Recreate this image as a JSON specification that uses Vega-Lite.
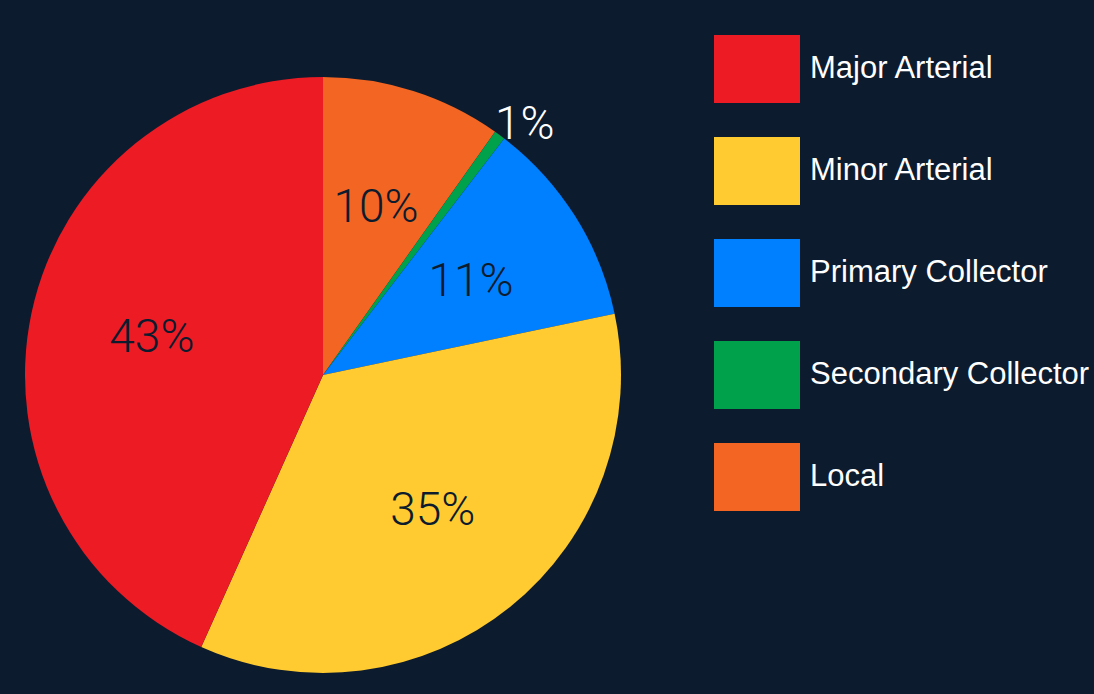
{
  "$schema": "https://vega.github.io/schema/vega-lite/v6.json",
  "width": 596,
  "height": 596,
  "autosize": {"type": "none"},
  "padding": {"left": 25, "top": 77, "right": 473, "bottom": 21},
  "background": "#0c1b2e",
  "config": {"view": {"stroke": null}},
  "data": {
    "values": [
      {"category": "Local", "share": 0.098, "rank": 1},
      {"category": "Secondary Collector", "share": 0.006, "rank": 2},
      {"category": "Primary Collector", "share": 0.113, "rank": 3},
      {"category": "Minor Arterial", "share": 0.350, "rank": 4},
      {"category": "Major Arterial", "share": 0.433, "rank": 5}
    ]
  },
  "encoding": {
    "theta": {"field": "share", "type": "quantitative", "stack": true},
    "order": {"field": "rank", "type": "quantitative", "sort": "ascending"}
  },
  "layer": [
    {
      "mark": {"type": "arc", "outerRadius": 298, "strokeWidth": 0},
      "encoding": {
        "color": {
          "field": "category",
          "type": "nominal",
          "scale": {
            "domain": ["Major Arterial", "Minor Arterial", "Primary Collector", "Secondary Collector", "Local"],
            "range": ["#ed1c24", "#ffcb31", "#0080ff", "#00a14b", "#f26522"]
          },
          "legend": {
            "orient": "none",
            "legendX": 689,
            "legendY": -51,
            "title": null,
            "symbolType": "M-1,-0.79H1V0.79H-1Z",
            "symbolSize": 7396,
            "symbolStrokeWidth": 0,
            "symbolOpacity": 1,
            "labelFontSize": 31,
            "labelFont": "Liberation Sans",
            "labelColor": "white",
            "labelOffset": 10,
            "rowPadding": 25,
            "padding": 0,
            "labelLimit": 400
          }
        }
      }
    },
    {
      "mark": {"type": "text", "radius": 175, "fontSize": 46, "font": "Roboto", "fontWeight": 300, "color": "#0c1b2e", "align": "center", "baseline": "middle"},
      "encoding": {
        "detail": {"field": "category", "type": "nominal"},
        "text": {"field": "share", "type": "quantitative", "format": ".0%"},
        "opacity": {"condition": {"test": "datum.category === 'Secondary Collector'", "value": 0}, "value": 1}
      }
    },
    {
      "mark": {"type": "text", "radius": 320, "dx": 12, "dy": 8, "fontSize": 46, "font": "Roboto", "fontWeight": 300, "color": "#ffffff", "align": "center", "baseline": "middle"},
      "encoding": {
        "detail": {"field": "category", "type": "nominal"},
        "text": {"field": "share", "type": "quantitative", "format": ".0%"},
        "opacity": {"condition": {"test": "datum.category === 'Secondary Collector'", "value": 1}, "value": 0}
      }
    }
  ]
}
